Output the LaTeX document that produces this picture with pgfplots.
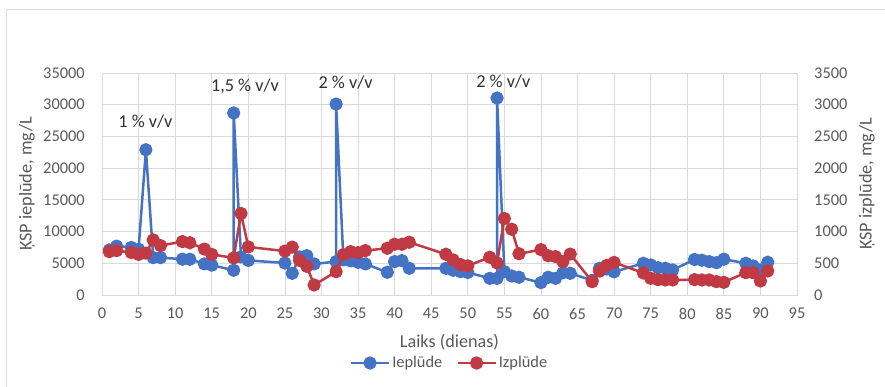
\documentclass[border=0pt]{standalone}
\usepackage{fontspec}
\setmainfont{Carlito}
\usepackage{pgfplots}
\pgfplotsset{compat=1.18}
\definecolor{cblue}{RGB}{68,114,196}
\definecolor{cred}{RGB}{192,57,67}
\definecolor{tickgray}{RGB}{89,89,89}
\definecolor{gridgray}{RGB}{217,217,217}
\definecolor{annot}{RGB}{50,50,50}
\begin{document}
\begin{tikzpicture}
\path[use as bounding box] (0,0) rectangle (885pt,387pt);
\draw[gridgray, line width=0.75pt] (6pt,0pt) -- (6pt,378pt) -- (885pt,378pt);
\pgfplotsset{
  common/.style={
    scale only axis, width=695pt, height=222pt,
    at={(102pt,92pt)}, anchor=south west,
    xmin=0, xmax=95, xtick={0,5,...,95},
    clip=false,
    ticklabel style={font=\fontsize{16.4}{19}\selectfont, text=tickgray},
    /pgf/number format/assume math mode=true,
    /pgf/number format/1000 sep={},
    scaled ticks=false,
    major tick length=0pt,
    label style={font=\fontsize{18.2}{21}\selectfont, text=tickgray},
  },
  blueplot/.style={cblue, line width=2.5pt, line join=round, mark=*, mark size=5.4pt, mark options={solid, fill=cblue, draw=none}},
  redplot/.style={cred, line width=2.5pt, line join=round, mark=*, mark size=5.4pt, mark options={solid, fill=cred, draw=none}},
}
\begin{axis}[common,
  ymin=0, ymax=35000, ytick={0,5000,...,35000},
  grid=major, grid style={gridgray, line width=0.75pt},
  axis line style={gridgray, line width=0.75pt},
  xticklabel style={anchor=north, inner sep=0pt, yshift=-13pt},
  yticklabel style={anchor=east, inner sep=0pt, xshift=-17pt},
  xlabel={Laiks (dienas)},
  xlabel style={at={(axis description cs:0.5,-0.2117)}, anchor=center},
  ylabel={ĶSP ieplūde, mg/L},
  ylabel style={at={(axis description cs:-0.1079,0.5)}, anchor=center},
]
\addplot[blueplot] coordinates {
(1,7100) (2,7700) (4,7500) (5,7200) (6,22900) (7,5900) (8,5900) (11,5640) (12,5640)
(14,4900) (15,4700) (18,3900) (18,28700) (19,6000) (20,5450) (25,5050) (26,3420)
(27,6000) (28,6200) (29,4900) (32,5260) (32,30100) (33,5530) (34,5370) (35,5160)
(36,4900) (39,3580) (40,5260) (41,5420) (42,4210) (47,4210) (48,3900) (49,3680)
(50,3550) (53,2630) (54,2630) (54,31050) (55,3680) (56,3000) (57,2800) (60,1950)
(61,2800) (62,2630) (63,3500) (64,3420) (67,2300) (68,4210) (69,4100) (70,3650)
(74,5000) (75,4740) (76,4300) (77,4210) (78,3950) (81,5600) (82,5480) (83,5260)
(84,5100) (85,5640) (88,5000) (89,4580) (90,3950) (91,5160)
};
\node[font=\fontsize{18.2}{21}\selectfont, text=annot] at (axis cs:5.94,27360) {1 \% v/v};
\node[font=\fontsize{18.2}{21}\selectfont, text=annot] at (axis cs:19.54,32890) {1,5 \% v/v};
\node[font=\fontsize{18.2}{21}\selectfont, text=annot] at (axis cs:33.3,33420) {2 \% v/v};
\node[font=\fontsize{18.2}{21}\selectfont, text=annot] at (axis cs:54.85,33680) {2 \% v/v};
\end{axis}
\begin{axis}[common,
  ymin=0, ymax=3500, ytick={0,500,...,3500},
  axis x line=none, axis y line*=right,
  axis line style={draw=none},
  yticklabel style={anchor=west, inner sep=0pt, xshift=17pt},
  ylabel={ĶSP izplūde, mg/L},
  ylabel style={at={(axis description cs:1.1007,0.5)}, anchor=center},
  legend columns=2,
  legend style={at={(axis description cs:0.5,-0.3063)}, anchor=center,
    draw=none, fill=none, font=\fontsize{16.4}{19}\selectfont, text=tickgray,
    nodes={inner sep=2pt},
    /tikz/every even column/.append style={column sep=12pt}},
  legend image code/.code={
    \draw[mark repeat=2, mark phase=2, #1] plot coordinates {(0pt,0pt) (19pt,0pt) (38pt,0pt)};
  },
]
\addlegendimage{blueplot}
\addlegendentry{Ieplūde}
\addplot[redplot] coordinates {
(1,684) (2,700) (4,670) (5,640) (6,660) (7,868) (8,779) (11,842) (12,824) (14,724)
(15,640) (18,585) (19,1285) (20,758) (25,692) (26,755) (27,545) (28,452) (29,158)
(32,368) (33,637) (34,684) (35,668) (36,700) (39,737) (40,800) (41,800) (42,832)
(47,642) (48,553) (49,480) (50,460) (53,595) (54,505) (55,1205) (56,1037) (57,650)
(60,715) (61,618) (62,605) (63,526) (64,645) (67,210) (68,376) (69,468) (70,513)
(74,347) (75,263) (76,242) (77,237) (78,237) (81,242) (82,237) (83,237) (84,210)
(85,200) (88,352) (89,352) (90,221) (91,379)
};
\addlegendentry{Izplūde}
\end{axis}
\end{tikzpicture}
\end{document}
